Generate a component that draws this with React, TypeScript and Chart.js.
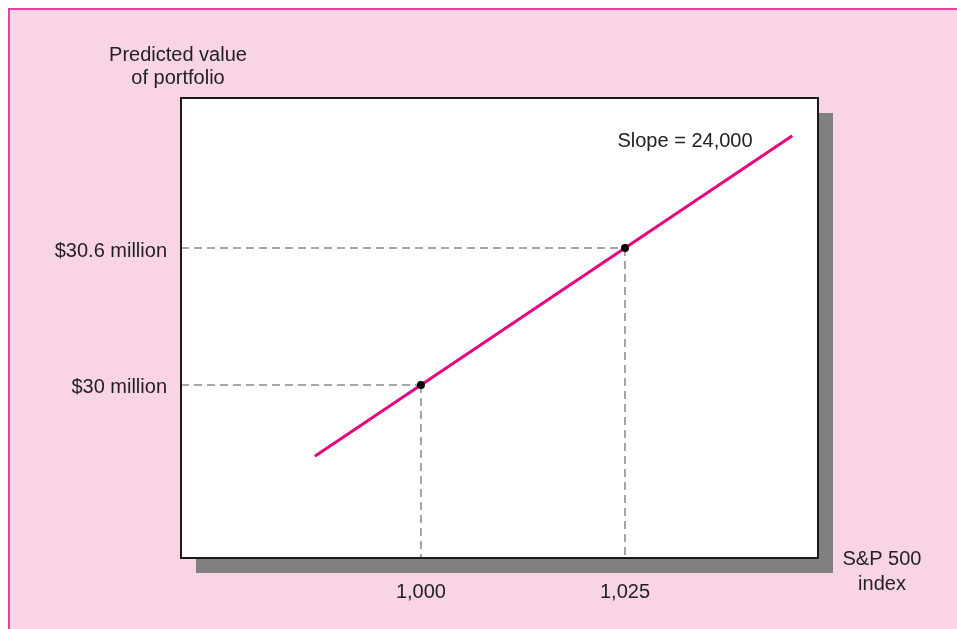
import React, { useEffect, useRef } from "react";
import { Chart, registerables } from "chart.js";

Chart.register(...registerables);

// S&P 500 index values along the line (endpoints + marked points)
const INDEX_VALUES = [987, 1000, 1025, 1045.5];
// Predicted value of portfolio, $ millions
const PORTFOLIO_VALUES = [29.688, 30, 30.6, 31.092];
const POINT_RADII = [0, 4, 4, 0];

const X_TICK_VALUES = [1000, 1025];
const X_TICK_LABELS = ["1,000", "1,025"];
const Y_TICK_VALUES = [30, 30.6];
const Y_TICK_LABELS = ["$30 million", "$30.6 million"];

const MARKED_X = [1000, 1025];
const MARKED_Y = [30, 30.6];

const X_MIN = 970.6;
const X_MAX = 1048.65;
const Y_MIN = 29.242;
const Y_MAX = 31.257;

const Y_TITLE = ["Predicted value", "of portfolio"];
const X_TITLE = ["S&P 500", "index"];
const SLOPE_LABEL = "Slope = 24,000";

const FONT = '"Liberation Sans", Arial, Helvetica, sans-serif';
const TEXT = "#222222";

const decorPlugin = {
  id: "decor",
  beforeDraw(chart: any) {
    const { ctx, chartArea: a } = chart;
    ctx.save();
    // shadow
    ctx.fillStyle = "#808080";
    ctx.fillRect(a.left + 15, a.top + 15, a.right - a.left, a.bottom - a.top);
    // white box
    ctx.fillStyle = "#ffffff";
    ctx.fillRect(a.left, a.top, a.right - a.left, a.bottom - a.top);
    ctx.restore();
  },
  beforeDatasetsDraw(chart: any) {
    const { ctx, chartArea: a, scales } = chart;
    ctx.save();
    ctx.strokeStyle = "#8a8a8a";
    ctx.lineWidth = 1.5;
    ctx.setLineDash([8, 5]);
    MARKED_X.forEach((xv, i) => {
      const px = scales.x.getPixelForValue(xv);
      const py = scales.y.getPixelForValue(MARKED_Y[i]);
      ctx.beginPath();
      ctx.moveTo(a.left, py);
      ctx.lineTo(px, py);
      ctx.stroke();
      ctx.beginPath();
      ctx.moveTo(px, py);
      ctx.lineTo(px, a.bottom);
      ctx.stroke();
    });
    ctx.restore();
  },
  afterDraw(chart: any) {
    const { ctx, chartArea: a } = chart;
    ctx.save();
    // box border
    ctx.strokeStyle = "#1a1a1a";
    ctx.lineWidth = 2;
    ctx.strokeRect(a.left, a.top, a.right - a.left, a.bottom - a.top);
    ctx.fillStyle = TEXT;
    ctx.font = `20px ${FONT}`;
    ctx.textBaseline = "middle";
    ctx.textAlign = "center";
    // y title
    ctx.fillText(Y_TITLE[0], a.left - 3, a.top - 43);
    ctx.fillText(Y_TITLE[1], a.left - 3, a.top - 20);
    // x title
    ctx.fillText(X_TITLE[0], a.right + 64, a.bottom + 1);
    ctx.fillText(X_TITLE[1], a.right + 64, a.bottom + 26);
    // slope label
    ctx.fillText(SLOPE_LABEL, a.right - 133, a.top + 43);
    ctx.restore();
  },
};

export default function App() {
  const ref = useRef<HTMLCanvasElement | null>(null);

  useEffect(() => {
    if (!ref.current) return;
    const chart = new Chart(ref.current, {
      type: "line",
      data: {
        datasets: [
          {
            data: INDEX_VALUES.map((x, i) => ({ x, y: PORTFOLIO_VALUES[i] })),
            borderColor: "#e6077f",
            borderWidth: 3,
            pointRadius: POINT_RADII,
            pointBackgroundColor: "#000000",
            pointBorderColor: "#000000",
            pointBorderWidth: 0,
            tension: 0,
          },
        ],
      },
      options: {
        animation: false,
        responsive: false,
        maintainAspectRatio: false,
        layout: { padding: { left: 0, top: 88, right: 139, bottom: 0 } },
        plugins: {
          legend: { display: false },
          tooltip: { enabled: false },
          title: { display: false },
        },
        scales: {
          x: {
            type: "linear",
            min: X_MIN,
            max: X_MAX,
            grid: { display: false, drawTicks: false },
            border: { display: false },
            afterBuildTicks: (s: any) => {
              s.ticks = X_TICK_VALUES.map((v) => ({ value: v }));
            },
            afterFit: (s: any) => {
              s.height = 71;
            },
            ticks: {
              padding: 22,
              color: TEXT,
              font: { family: FONT, size: 20 },
              maxRotation: 0,
              callback: (v: any) => {
                const i = X_TICK_VALUES.indexOf(Number(v));
                return i >= 0 ? X_TICK_LABELS[i] : "";
              },
            },
          },
          y: {
            type: "linear",
            min: Y_MIN,
            max: Y_MAX,
            grid: { display: false, drawTicks: false },
            border: { display: false },
            afterBuildTicks: (s: any) => {
              s.ticks = Y_TICK_VALUES.map((v) => ({ value: v }));
            },
            afterFit: (s: any) => {
              s.width = 171;
            },
            ticks: {
              padding: 14,
              labelOffset: 3,
              color: TEXT,
              font: { family: FONT, size: 20 },
              callback: (v: any) => {
                const i = Y_TICK_VALUES.findIndex((t) => Math.abs(t - Number(v)) < 1e-6);
                return i >= 0 ? Y_TICK_LABELS[i] : "";
              },
            },
          },
        },
      },
      plugins: [decorPlugin],
    });
    return () => chart.destroy();
  }, []);

  return (
    <div
      style={{
        position: "fixed",
        left: 8,
        top: 8,
        width: 949,
        height: 621,
        boxSizing: "border-box",
        background: "#f9d4e5",
        borderTop: "2px solid #e83e9c",
        borderLeft: "2px solid #e83e9c",
        overflow: "hidden",
      }}
    >
      <canvas ref={ref} width={947} height={619} style={{ display: "block" }} />
    </div>
  );
}
